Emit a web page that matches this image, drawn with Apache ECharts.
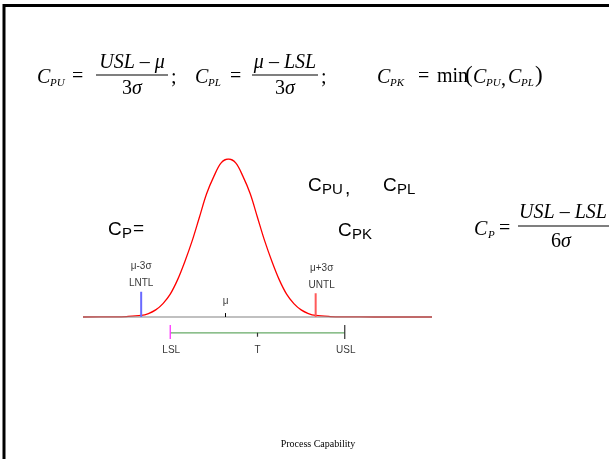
<!DOCTYPE html>
<html>
<head>
<meta charset="utf-8">
<script src="https://cdn.jsdelivr.net/npm/echarts@6/dist/echarts.min.js"></script>
<style>html,body{margin:0;padding:0;background:#fff;}#c{width:609px;height:459px;}</style>
</head>
<body>
<div id="c"></div>
<script>
// Curve (x in sigma units from the mean, y relative to peak height)
var curveX = [-5, -4, -3.5, -3, -2.75, -2.5, -2.25, -2, -1.75, -1.5, -1.25, -1, -0.75, -0.5, -0.25, 0, 0.25, 0.5, 0.75, 1, 1.25, 1.5, 1.75, 2, 2.25, 2.5, 2.75, 3, 3.5, 4, 5, 6, 7];
var curveY = [0, 0.001, 0.003, 0.01, 0.022, 0.045, 0.085, 0.145, 0.235, 0.35, 0.48, 0.63, 0.78, 0.89, 0.975, 1, 0.975, 0.89, 0.78, 0.63, 0.48, 0.35, 0.235, 0.145, 0.085, 0.045, 0.022, 0.01, 0.003, 0.001, 0, 0, 0];
var axisRange = [-5, 7];
var lntl = -3, untl = 3, muTick = -0.1;
var lntlTop = 0.16, untlTop = 0.15, muTickTop = 0.025;
var lsl = -2, target = 1, usl = 4;
var specLevel = -0.1;
var specTickTop = -0.05, specTickBottom = -0.14, targetTickBottom = -0.125;
var specLabels = ['LSL', 'T', 'USL'];

var chart = echarts.init(document.getElementById('c'));
var curveData = curveX.map(function (x, i) { return [x, curveY[i]]; });
function seg(x1, y1, x2, y2) { return [[x1, y1], [x2, y2]]; }
function lineSeries(data, color, width, z, smooth) {
  return { type: 'line', data: data, symbol: 'none', silent: true, z: z || 2, smooth: smooth || false,
    lineStyle: { color: color, width: width }, animation: false };
}
var serif = 'Liberation Serif';
var richSerif = {
  n: { fontFamily: serif, fontSize: 20, fontStyle: 'normal', fill: '#000' },
  s: { fontFamily: serif, fontSize: 20, fontStyle: 'italic', fill: '#000' }
};
function t(x, y, text, size, opts) {
  opts = opts || {};
  return { type: 'text', x: x, y: y, silent: true,
    style: { text: text, fill: '#000', fontFamily: opts.family || serif,
      fontSize: size, fontStyle: opts.upright ? 'normal' : 'italic',
      textAlign: opts.align || 'left', textVerticalAlign: 'middle', rich: richSerif } };
}
function bar(x1, x2, y) {
  return { type: 'line', silent: true, shape: { x1: x1, y1: y, x2: x2, y2: y },
    style: { stroke: '#000', lineWidth: 1.2 } };
}
var up = { upright: true };
var sans = { upright: true, family: 'Liberation Sans' };
var graphics = [
  // frame
  { type: 'line', shape: { x1: 3, y1: 5.5, x2: 609, y2: 5.5 }, style: { stroke: '#000', lineWidth: 3 } },
  { type: 'line', shape: { x1: 4, y1: 4, x2: 4, y2: 459 }, style: { stroke: '#000', lineWidth: 3 } },
  // C_PU = (USL - mu)/3 sigma;
  t(37, 78, 'C', 20), t(50, 83, 'PU', 11), t(72, 77, '=', 20, up),
  t(132, 63, 'USL – μ', 20, { align: 'center' }), bar(96, 168, 75), t(132, 89, '{n|3}{s|σ}', 20, { align: 'center' }),
  t(171, 78, ';', 20, up),
  // C_PL
  t(195, 78, 'C', 20), t(208, 83, 'PL', 11), t(230, 77, '=', 20, up),
  t(285, 63, 'μ – LSL', 20, { align: 'center' }), bar(252, 318, 75), t(285, 89, '{n|3}{s|σ}', 20, { align: 'center' }),
  t(321, 78, ';', 20, up),
  // C_PK = min(C_PU, C_PL)
  t(377, 78, 'C', 20), t(390, 83, 'PK', 11), t(418, 77, '=', 20, up),
  t(437, 77, 'min', 20, up), t(465, 76, '(', 23, up),
  t(473, 78, 'C', 20), t(486, 83, 'PU', 11), t(501, 80, ',', 20, up),
  t(508, 78, 'C', 20), t(521, 83, 'PL', 11), t(535, 76, ')', 23, up),
  // C_P = (USL-LSL)/6 sigma
  t(474, 230, 'C', 20), t(488, 235, 'P', 11), t(499, 229, '=', 20, up),
  t(563, 213, 'USL – LSL', 20, { align: 'center' }), bar(518, 609, 226), t(561, 242, '{n|6}{s|σ}', 20, { align: 'center' }),
  // sans labels
  t(108, 230, 'C', 19, sans), t(122, 234, 'P', 15, sans), t(133, 229, '=', 19, sans),
  t(308, 186, 'C', 19, sans), t(322, 190, 'PU', 15, sans), t(345, 189, ',', 19, sans),
  t(383, 186, 'C', 19, sans), t(397, 190, 'PL', 15, sans),
  t(338, 231, 'C', 19, sans), t(352, 235, 'PK', 15, sans),
  // footer
  t(318, 444, 'Process Capability', 10, { upright: true, align: 'center' })
];

function labelPoint(x, y, text, pos, offset) {
  return { value: [x, y], label: { show: true, position: pos, formatter: text, offset: offset || [0, 0] } };
}

chart.setOption({
  animation: false,
  grid: { left: 83, right: 177, top: 159, bottom: 110.4 },
  xAxis: { type: 'value', min: axisRange[0], max: axisRange[1], show: false },
  yAxis: { type: 'value', min: -0.2, max: 1, show: false },
  graphic: graphics,
  series: [
    lineSeries(curveData, '#ff0000', 1.3, 2, 0.35),
    lineSeries(seg(axisRange[0], 0, axisRange[1], 0), 'rgba(140,140,140,0.55)', 2, 3),
    lineSeries(seg(lntl, 0, lntl, lntlTop), '#6a6aff', 2, 4),
    lineSeries(seg(untl, 0, untl, untlTop), '#ff5a5a', 2, 4),
    lineSeries(seg(muTick, 0, muTick, muTickTop), '#000', 1, 4),
    lineSeries(seg(lsl, specLevel, usl, specLevel), '#66aa66', 1.3, 3),
    lineSeries(seg(lsl, specTickTop, lsl, specTickBottom), '#ff33ff', 1.3, 4),
    lineSeries(seg(usl, specTickTop, usl, specTickBottom), '#333', 1.2, 4),
    lineSeries(seg(target, specLevel, target, targetTickBottom), '#333', 1.2, 4),
    {
      type: 'scatter', symbolSize: 0, silent: true, z: 5,
      label: { color: '#000', fontFamily: 'Liberation Sans', fontSize: 10, lineHeight: 17, distance: 4 },
      data: [
        labelPoint(lsl, specTickBottom, specLabels[0], 'bottom', [1, -1]),
        labelPoint(target, targetTickBottom, specLabels[1], 'bottom', [0, 1]),
        labelPoint(usl, specTickBottom, specLabels[2], 'bottom', [1, -1]),
        labelPoint(muTick, muTickTop, 'μ', 'top', [0, 1]),
        labelPoint(lntl, lntlTop, 'μ-3σ\nLNTL', 'top', [0, 4]),
        labelPoint(untl, untlTop, 'μ+3σ\nUNTL', 'top', [6, 4])
      ]
    }
  ]
});
</script>
</body>
</html>
